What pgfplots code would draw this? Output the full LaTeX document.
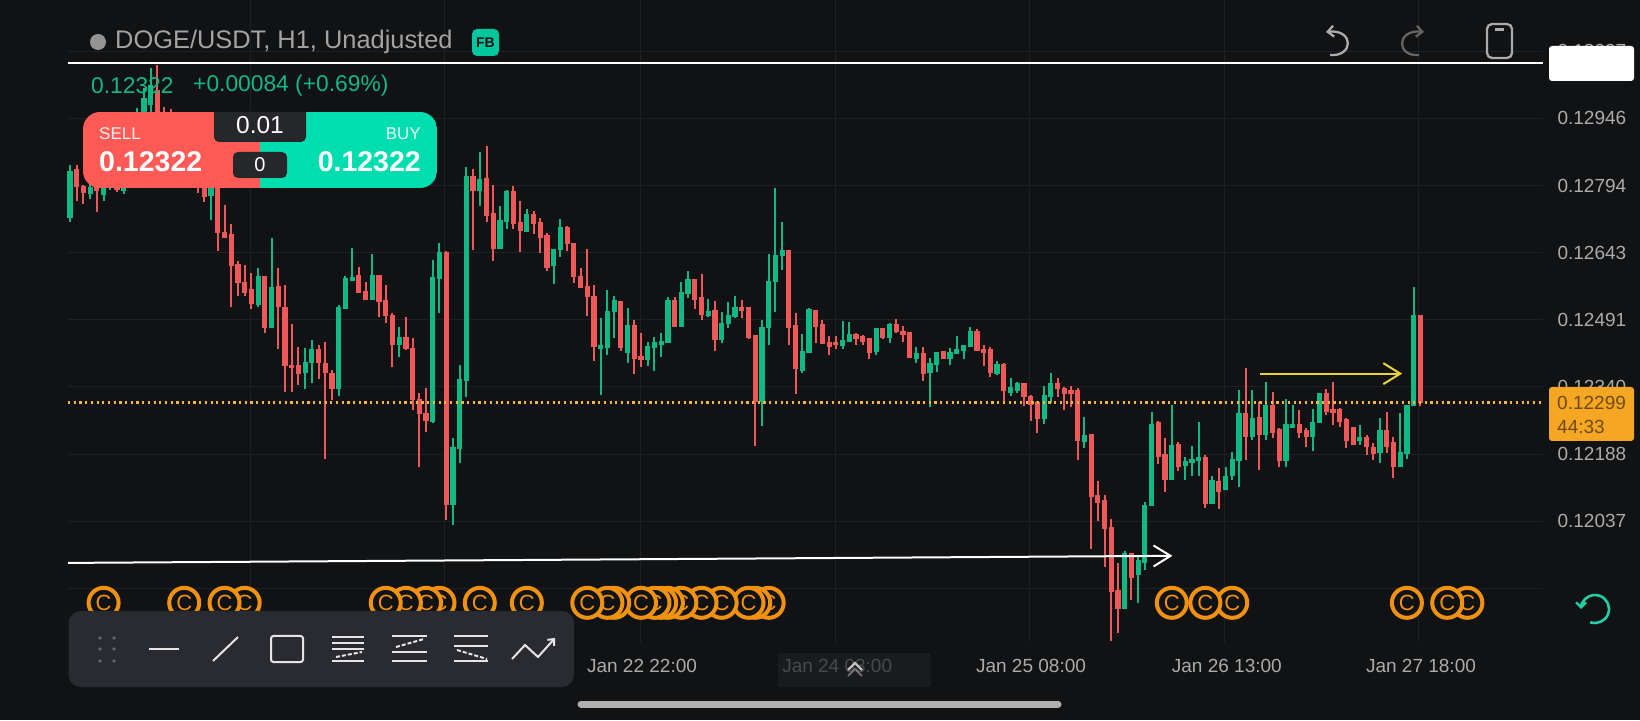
\documentclass[border=0pt]{standalone}
\usepackage{fontspec}
\setmainfont{Liberation Sans}
\usepackage{pgfplots}
\usepackage{pgfplotstable}
\pgfplotsset{compat=1.18}
\usetikzlibrary{arrows.meta}
\definecolor{bg}{HTML}{111214}
\definecolor{gridc}{HTML}{1F2024}
\definecolor{cg}{HTML}{10B981}
\definecolor{cr}{HTML}{EE5858}
\definecolor{coin}{HTML}{F0920F}
\definecolor{lab}{HTML}{ABABAB}
\definecolor{tool}{HTML}{2A2B30}
\definecolor{tag}{HTML}{F5A623}
\definecolor{psell}{HTML}{FF5A55}
\definecolor{pbuy}{HTML}{00DDAE}
\definecolor{teal}{HTML}{1FD0A8}
\definecolor{ylw}{HTML}{EAD43A}
\pgfdeclareplotmark{coin}{\pgfpathcircle{\pgfpointorigin}{15pt}\pgfusepathqfillstroke\pgftext{\fontsize{22}{22}\selectfont\color{coin}C}}
\pgfplotstableread{
i o h l c
0 0.12720 0.12841 0.12711 0.12827
3 0.12775 0.12799 0.12763 0.12792
5 0.12773 0.12803 0.12760 0.12796
6 0.12792 0.12829 0.12784 0.12814
8 0.12781 0.12826 0.12775 0.12814
9 0.12850 0.12880 0.12790 0.12870
10 0.12870 0.12969 0.12850 0.12950
11 0.12942 0.13014 0.12920 0.12992
12 0.12976 0.13059 0.12942 0.13021
17 0.12800 0.12880 0.12790 0.12850
21 0.12771 0.12850 0.12717 0.12810
28 0.12525 0.12608 0.12521 0.12590
30 0.12472 0.12677 0.12472 0.12566
35 0.12371 0.12427 0.12335 0.12397
36 0.12393 0.12447 0.12348 0.12425
40 0.12335 0.12525 0.12320 0.12521
41 0.12515 0.12590 0.12515 0.12585
42 0.12580 0.12653 0.12580 0.12589
45 0.12535 0.12641 0.12535 0.12593
49 0.12435 0.12476 0.12408 0.12453
54 0.12262 0.12626 0.12258 0.12587
55 0.12583 0.12664 0.12506 0.12645
57 0.12074 0.12224 0.12029 0.12205
58 0.12200 0.12390 0.12168 0.12358
59 0.12354 0.12837 0.12318 0.12815
61 0.12782 0.12871 0.12749 0.12809
64 0.12652 0.12749 0.12652 0.12717
65 0.12713 0.12785 0.12696 0.12781
68 0.12689 0.12742 0.12689 0.12730
72 0.12612 0.12652 0.12572 0.12652
73 0.12648 0.12718 0.12633 0.12700
79 0.12426 0.12495 0.12322 0.12435
80 0.12427 0.12559 0.12412 0.12512
81 0.12510 0.12545 0.12450 0.12535
83 0.12416 0.12518 0.12394 0.12480
86 0.12401 0.12442 0.12388 0.12433
87 0.12427 0.12452 0.12377 0.12442
88 0.12435 0.12461 0.12407 0.12444
89 0.12440 0.12542 0.12440 0.12536
91 0.12476 0.12576 0.12475 0.12555
92 0.12549 0.12602 0.12540 0.12584
95 0.12501 0.12538 0.12497 0.12512
97 0.12445 0.12508 0.12439 0.12485
98 0.12482 0.12531 0.12473 0.12503
99 0.12497 0.12545 0.12495 0.12521
103 0.12305 0.12491 0.12252 0.12475
104 0.12473 0.12640 0.12435 0.12578
105 0.12576 0.12788 0.12510 0.12638
106 0.12636 0.12711 0.12604 0.12649
109 0.12377 0.12460 0.12371 0.12420
110 0.12416 0.12518 0.12416 0.12516
115 0.12433 0.12488 0.12425 0.12446
116 0.12442 0.12486 0.12442 0.12459
120 0.12418 0.12473 0.12411 0.12473
122 0.12451 0.12484 0.12439 0.12482
126 0.12403 0.12431 0.12395 0.12416
128 0.12371 0.12405 0.12294 0.12395
129 0.12390 0.12418 0.12373 0.12418
131 0.12403 0.12427 0.12390 0.12418
132 0.12415 0.12454 0.12415 0.12425
133 0.12420 0.12435 0.12403 0.12435
134 0.12431 0.12475 0.12431 0.12467
138 0.12369 0.12399 0.12367 0.12392
140 0.12327 0.12361 0.12320 0.12339
141 0.12330 0.12352 0.12326 0.12350
145 0.12268 0.12342 0.12257 0.12322
146 0.12318 0.12371 0.12303 0.12350
151 0.12215 0.12273 0.12202 0.12232
157 0.11839 0.11969 0.11839 0.11966
159 0.11915 0.11961 0.11852 0.11950
160 0.11942 0.12081 0.11926 0.12074
161 0.12072 0.12283 0.12072 0.12256
164 0.12130 0.12300 0.12130 0.12209
166 0.12162 0.12183 0.12130 0.12174
167 0.12168 0.12206 0.12139 0.12178
168 0.12172 0.12262 0.12139 0.12182
170 0.12075 0.12139 0.12075 0.12129
172 0.12108 0.12159 0.12108 0.12139
173 0.12138 0.12194 0.12129 0.12177
174 0.12172 0.12332 0.12115 0.12282
176 0.12226 0.12332 0.12220 0.12271
178 0.12232 0.12352 0.12220 0.12299
181 0.12174 0.12312 0.12159 0.12256
182 0.12247 0.12299 0.12247 0.12257
185 0.12226 0.12290 0.12196 0.12260
186 0.12258 0.12326 0.12258 0.12326
192 0.12217 0.12254 0.12209 0.12228
195 0.12190 0.12271 0.12169 0.12242
198 0.12160 0.12281 0.12159 0.12194
199 0.12188 0.12299 0.12177 0.12299
200 0.12297 0.12566 0.12297 0.12502
}\upbars
\pgfplotstableread{
i o h l c
1 0.12831 0.12841 0.12760 0.12792
2 0.12793 0.12796 0.12753 0.12778
4 0.12792 0.12799 0.12734 0.12781
7 0.12807 0.12822 0.12779 0.12784
13 0.13010 0.13066 0.12900 0.12920
14 0.12930 0.12971 0.12880 0.12900
15 0.12900 0.12967 0.12830 0.12860
16 0.12860 0.12900 0.12800 0.12830
18 0.12840 0.12890 0.12800 0.12810
19 0.12830 0.12870 0.12777 0.12800
20 0.12810 0.12860 0.12758 0.12769
22 0.12800 0.12830 0.12647 0.12687
23 0.12690 0.12750 0.12677 0.12677
24 0.12685 0.12708 0.12521 0.12613
25 0.12617 0.12623 0.12545 0.12575
26 0.12577 0.12615 0.12545 0.12553
27 0.12560 0.12596 0.12515 0.12527
29 0.12590 0.12590 0.12462 0.12472
31 0.12568 0.12608 0.12425 0.12521
32 0.12521 0.12570 0.12329 0.12388
33 0.12389 0.12483 0.12329 0.12382
34 0.12389 0.12431 0.12344 0.12369
37 0.12425 0.12435 0.12359 0.12393
38 0.12395 0.12442 0.12177 0.12371
39 0.12371 0.12378 0.12310 0.12335
43 0.12593 0.12611 0.12551 0.12553
44 0.12556 0.12577 0.12535 0.12535
46 0.12593 0.12593 0.12497 0.12532
47 0.12535 0.12571 0.12485 0.12499
48 0.12502 0.12506 0.12384 0.12435
50 0.12453 0.12497 0.12423 0.12425
51 0.12427 0.12450 0.12289 0.12310
52 0.12312 0.12326 0.12159 0.12279
53 0.12282 0.12337 0.12239 0.12264
56 0.12645 0.12647 0.12040 0.12074
60 0.12816 0.12831 0.12649 0.12781
62 0.12812 0.12884 0.12713 0.12726
63 0.12732 0.12796 0.12624 0.12652
66 0.12781 0.12794 0.12696 0.12707
67 0.12713 0.12760 0.12644 0.12691
69 0.12730 0.12737 0.12685 0.12707
70 0.12712 0.12721 0.12642 0.12677
71 0.12683 0.12687 0.12602 0.12609
74 0.12700 0.12702 0.12646 0.12663
75 0.12664 0.12664 0.12574 0.12587
76 0.12591 0.12608 0.12564 0.12564
77 0.12568 0.12651 0.12501 0.12544
78 0.12545 0.12570 0.12399 0.12430
82 0.12533 0.12533 0.12422 0.12427
84 0.12480 0.12490 0.12369 0.12403
85 0.12409 0.12461 0.12386 0.12400
90 0.12536 0.12542 0.12476 0.12476
93 0.12583 0.12584 0.12516 0.12536
94 0.12542 0.12594 0.12491 0.12503
96 0.12514 0.12533 0.12420 0.12446
100 0.12521 0.12535 0.12495 0.12512
101 0.12520 0.12520 0.12448 0.12450
102 0.12458 0.12458 0.12206 0.12305
107 0.12649 0.12649 0.12435 0.12474
108 0.12479 0.12506 0.12324 0.12381
111 0.12514 0.12514 0.12439 0.12476
112 0.12482 0.12490 0.12437 0.12437
113 0.12441 0.12455 0.12412 0.12431
114 0.12442 0.12454 0.12426 0.12435
117 0.12459 0.12461 0.12435 0.12448
118 0.12455 0.12457 0.12435 0.12442
119 0.12450 0.12450 0.12403 0.12416
121 0.12473 0.12473 0.12448 0.12450
123 0.12482 0.12493 0.12461 0.12463
124 0.12467 0.12478 0.12442 0.12457
125 0.12463 0.12463 0.12405 0.12405
127 0.12416 0.12430 0.12354 0.12369
130 0.12421 0.12422 0.12403 0.12403
135 0.12467 0.12470 0.12420 0.12420
136 0.12425 0.12435 0.12388 0.12416
137 0.12426 0.12429 0.12362 0.12371
139 0.12392 0.12394 0.12303 0.12330
142 0.12350 0.12350 0.12296 0.12318
143 0.12320 0.12322 0.12263 0.12300
144 0.12307 0.12309 0.12237 0.12268
147 0.12350 0.12360 0.12317 0.12335
148 0.12337 0.12339 0.12288 0.12324
149 0.12333 0.12341 0.12294 0.12324
150 0.12332 0.12337 0.12175 0.12217
152 0.12233 0.12234 0.11975 0.12091
153 0.12097 0.12127 0.12038 0.12079
154 0.12084 0.12097 0.11933 0.12020
155 0.12025 0.12042 0.11766 0.11878
156 0.11882 0.11942 0.11786 0.11839
158 0.11966 0.11966 0.11860 0.11909
162 0.12260 0.12263 0.12166 0.12183
163 0.12189 0.12224 0.12104 0.12130
165 0.12212 0.12215 0.12151 0.12160
169 0.12183 0.12187 0.12068 0.12075
171 0.12127 0.12158 0.12065 0.12103
175 0.12281 0.12382 0.12175 0.12228
177 0.12273 0.12307 0.12153 0.12232
179 0.12299 0.12328 0.12224 0.12237
180 0.12245 0.12247 0.12159 0.12174
183 0.12257 0.12287 0.12224 0.12237
184 0.12242 0.12247 0.12205 0.12226
187 0.12326 0.12335 0.12277 0.12284
188 0.12290 0.12352 0.12254 0.12281
189 0.12290 0.12292 0.12249 0.12262
190 0.12268 0.12269 0.12203 0.12217
191 0.12249 0.12249 0.12209 0.12209
193 0.12228 0.12232 0.12187 0.12204
194 0.12205 0.12213 0.12175 0.12189
196 0.12243 0.12284 0.12190 0.12204
197 0.12215 0.12226 0.12134 0.12159
201 0.12502 0.12502 0.12296 0.12303
}\downbars
\pgfplotsset{
 wick/.style={draw=none,no markers,forget plot,error bars/.cd,y dir=plus,y explicit,error mark=none,error bar style={draw=#1,solid,line width=2pt}},
 body/.style={draw=none,no markers,forget plot,error bars/.cd,y dir=plus,y explicit,error mark=none,error bar style={draw=#1,solid,line width=5.2pt}},
}
\begin{document}
\begin{tikzpicture}[x=1pt,y=1pt]
\path[use as bounding box] (0,0) rectangle (1640,720);
\fill[bg] (0,0) rectangle (1640,720);
\begin{axis}[
 at={(68pt,78pt)},anchor=south west,scale only axis,width=1475pt,height=642pt,
 xmin=-0.298,xmax=219.26,ymin=0.117646,ymax=0.132129,
 axis line style={draw=none},major tick length=0pt,
 grid=major,grid style={gridc,line width=1pt},
 xtick={26.8,55.8,84.85,113.9,142.75,171.9,200.8},
 xticklabels={,,Jan 22 22:00,Jan 24 03:00,Jan 25 08:00,Jan 26 13:00,Jan 27 18:00},
 ytick={0.11885,0.12037,0.12188,0.12340,0.12491,0.12643,0.12794,0.12946,0.13097},
 yticklabels={,0.12037,0.12188,0.12340,0.12491,0.12643,0.12794,0.12946,0.13097},
 yticklabel pos=right,
 xticklabel style={font=\fontsize{19}{19}\selectfont,text=lab,anchor=center,yshift=-24pt,xshift=2pt},
 yticklabel style={font=\fontsize{19}{19}\selectfont,text=lab,anchor=west,xshift=11pt},
 clip=false,
]
\addplot[wick=cg] table[x=i,y=l,y error expr=\thisrow{h}-\thisrow{l}] {\upbars};
\addplot[body=cg] table[x=i,y=o,y error expr=\thisrow{c}-\thisrow{o}] {\upbars};
\addplot[wick=cr] table[x=i,y=l,y error expr=\thisrow{h}-\thisrow{l}] {\downbars};
\addplot[body=cr] table[x=i,y=c,y error expr=\thisrow{o}-\thisrow{c}] {\downbars};
% current price line
\addplot[forget plot,tag!85!white,line width=2.2pt,dash pattern=on 2.2pt off 3.5pt] coordinates {(-0.298,0.12305) (219.26,0.12305)};
% hand-drawn lines
\addplot[forget plot,white,line width=2pt] coordinates {(-0.298,0.13071) (219.26,0.13071)};
\addplot[forget plot,white,line width=2pt,-{Straight Barb[length=17pt,width=21pt,line width=2pt]}] coordinates {(-0.298,0.11943) (164.1,0.11959)};
\addplot[forget plot,ylw,line width=2pt,-{Straight Barb[length=17pt,width=21pt,line width=2pt]}] coordinates {(177.1,0.12370) (198.3,0.12370)};
% coin markers, right to left so that the left one lies on top
\addplot[forget plot,only marks,mark=coin,mark options={draw=coin,fill=bg,line width=4pt}] coordinates {
(208,0.11853)(205,0.11853)(199,0.11853)(173,0.11853)(169,0.11853)(164,0.11853)
(104,0.11853)(102,0.11853)(101,0.11853)(97,0.11853)(94,0.11853)(91,0.11853)(89,0.11853)(88,0.11853)(87,0.11853)(85,0.11853)
(81,0.11853)(80,0.11853)(77,0.11853)(68,0.11853)(61,0.11853)(55,0.11853)(53,0.11853)(50,0.11853)(47,0.11853)(26,0.11853)(23,0.11853)(17,0.11853)(5,0.11853)};
\end{axis}
\begin{scope}[x=1pt,y=-1pt,shift={(0pt,720pt)}]
% header
\fill[black!0!gray!55!lab] (98,42) circle (8);
\node[anchor=west,inner sep=0,text=lab!110,font=\fontsize{25.4}{25.4}\selectfont] at (115,42) {DOGE/USDT, H1, Unadjusted};
\fill[pbuy!90!black,rounded corners=5pt] (472,29) rectangle (499,56);
\node[font=\fontsize{14}{14}\selectfont\bfseries,text=bg] at (485.5,42.5) {FB};
\node[anchor=west,inner sep=0,text=cg,font=\fontsize{22.8}{22.8}\selectfont] at (91,86) {0.12322};
\node[anchor=west,inner sep=0,text=cg,font=\fontsize{22.8}{22.8}\selectfont] at (193,86) {+0.00084 (+0.69\%)};
% trade panel
\begin{scope}
\clip[rounded corners=17pt] (83,112) rectangle (437,188);
\fill[psell] (83,112) rectangle (260,188);
\fill[pbuy] (260,112) rectangle (437,188);
\end{scope}
\fill[tool!90!black] (214,112) [rounded corners=5pt] -- (214,142) -- (306,142) [sharp corners] -- (306,112) -- cycle;
\fill[tool!90!black,rounded corners=5pt] (233,152) rectangle (287,178);
\node[text=white,font=\fontsize{24.5}{24.5}\selectfont] at (260,125.5) {0.01};
\node[text=white,font=\fontsize{20}{20}\selectfont] at (260,165) {0};
\node[anchor=west,inner sep=0,text=white!92!psell,font=\fontsize{17}{17}\selectfont] at (99,134) {SELL};
\node[anchor=east,inner sep=0,text=white!92!pbuy,font=\fontsize{17}{17}\selectfont] at (421,134) {BUY};
\node[anchor=west,inner sep=0,text=white,font=\fontsize{28.5}{28.5}\selectfont\bfseries] at (99,162) {0.12322};
\node[anchor=east,inner sep=0,text=white,font=\fontsize{28.5}{28.5}\selectfont\bfseries] at (421,162) {0.12322};
% top right
\draw[lab,line width=2.3pt,-{Straight Barb[length=6pt,width=11pt,line width=2.3pt]}] (1330,55) .. controls (1354,57) and (1354,29) .. (1326,32);
\draw[gray!75!bg,line width=2.3pt,-{Straight Barb[length=6pt,width=11pt,line width=2.3pt]}] (1419,55) .. controls (1396,57) and (1396,29) .. (1424,32);
\draw[lab,line width=2.3pt,rounded corners=5pt] (1487,24) rectangle (1512,58);
\draw[lab,line width=2.2pt] (1495,29.5) -- (1504,29.5);
\fill[white,rounded corners=3pt] (1549,46) rectangle (1634,81);
% price tag
\fill[tag,rounded corners=3pt] (1549,387) rectangle (1634,441);
\node[anchor=west,inner sep=0,text=tag!45!black,font=\fontsize{19}{19}\selectfont] at (1557,403) {0.12299};
\node[anchor=west,inner sep=0,text=tag!45!black,font=\fontsize{19}{19}\selectfont] at (1557,427) {44:33};
% refresh
\draw[teal,line width=2.6pt,-{Straight Barb[length=5pt,width=10pt,line width=2.4pt]}] (1595,609) ++(110:14) arc[start angle=110,end angle=-180,radius=14];
% toolbar
\fill[tool,rounded corners=12pt] (68.5,611) rectangle (574,687);
\foreach \yy in {638,649,661} {\fill[gray!70!tool] (100,\yy) circle (1.9); \fill[gray!70!tool] (114,\yy) circle (1.9);}
\draw[white!90!black,line width=2.4pt] (149,649) -- (179,649);
\draw[white!90!black,line width=2pt] (213,661) -- (238,637);
\draw[white!90!black,line width=2pt,rounded corners=2.5pt] (271,636) rectangle (303,662);
\begin{scope}[white!90!black,line width=2pt]
\draw (332,637) -- (364,637); \draw (332,643) -- (364,643); \draw (332,649) -- (364,649); \draw (332,661) -- (364,661);
\draw[dash pattern=on 4pt off 2pt] (336,657) -- (362,652);
\draw (392,636) -- (427,636); \draw (392,652) -- (427,652); \draw (392,661) -- (427,661);
\draw[dash pattern=on 4pt off 2pt] (396,647) -- (424,639);
\draw (454,636) -- (488,636); \draw (454,646) -- (488,646); \draw (454,661) -- (488,661);
\draw[dash pattern=on 4pt off 2pt] (457,650) -- (487,659);
\draw[-{Straight Barb[length=5pt,width=9pt,line width=2pt]}] (512,659) -- (525,645) -- (538,657) -- (555,638);
\end{scope}
% x-axis button over the Jan 24 label
\fill[fill=tool!55!bg,fill opacity=0.7,rounded corners=3pt] (778,653) rectangle (931,687);
\draw[white!75!black,line width=2.2pt] (848,670) -- (855,663) -- (862,670);
\draw[white!75!black,line width=2pt,opacity=.5] (848,676) -- (855,669) -- (862,676);
% home bar
\draw[lab!95!white,line width=7pt,line cap=round] (581,704) -- (1058,704);
\end{scope}
\end{tikzpicture}
\end{document}
